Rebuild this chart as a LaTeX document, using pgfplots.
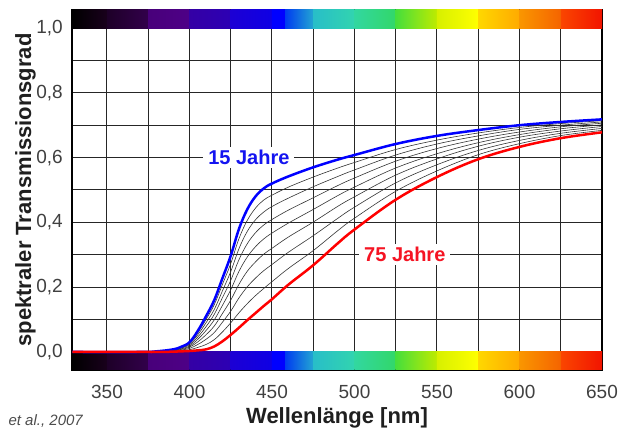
\documentclass[border=0pt]{standalone}
\usepackage{fontspec}
\setmainfont{Liberation Sans}
\usepackage{pgfplots}
\pgfplotsset{compat=1.18}
\usepackage{pgfplotstable}

\definecolor{jblue}{RGB}{0,0,255}
\definecolor{jred}{RGB}{255,0,0}
\definecolor{tblue}{RGB}{20,20,240}
\definecolor{tred}{RGB}{245,20,35}
% spectrum colours
\definecolor{s00}{RGB}{0,0,0}
\definecolor{s01}{RGB}{25,0,28}
\definecolor{s02}{RGB}{30,0,40}
\definecolor{s03}{RGB}{50,0,75}
\definecolor{s04}{RGB}{72,0,122}
\definecolor{s05}{RGB}{78,0,135}
\definecolor{s06}{RGB}{52,0,165}
\definecolor{s07}{RGB}{45,0,180}
\definecolor{s08}{RGB}{28,0,212}
\definecolor{s09}{RGB}{15,0,228}
\definecolor{s10}{RGB}{0,0,255}
\definecolor{s11}{RGB}{0,60,240}
\definecolor{s12}{RGB}{35,165,210}
\definecolor{s13}{RGB}{40,190,200}
\definecolor{s14}{RGB}{50,212,175}
\definecolor{s15}{RGB}{50,215,160}
\definecolor{s16}{RGB}{50,215,105}
\definecolor{s17}{RGB}{70,222,60}
\definecolor{s18}{RGB}{190,235,0}
\definecolor{s19}{RGB}{215,240,0}
\definecolor{s20}{RGB}{255,255,0}
\definecolor{s21}{RGB}{255,215,0}
\definecolor{s22}{RGB}{255,170,0}
\definecolor{s23}{RGB}{250,150,0}
\definecolor{s24}{RGB}{245,100,0}
\definecolor{s25}{RGB}{250,70,0}
\definecolor{s26}{RGB}{242,20,0}

\newcommand{\specseg}[4]{%
  \shade[left color=#3,right color=#4] (axis cs:#1,1) rectangle (axis cs:#2,1.0556);
  \shade[left color=#3,right color=#4] (axis cs:#1,-0.0556) rectangle (axis cs:#2,0);
}

\pgfplotstableread{
x   b     c1    c2    c3    c4    c5    c6    c7    r
329 0     0     0     0     0     0     0     0     0
370 0     0     0     0     0     0     0     0     0
380 0.002 0.002 0.002 0.001 0.001 0.001 0.001 0.000 0
390 0.008 0.007 0.007 0.006 0.005 0.004 0.003 0.002 0.001
395 0.016 0.015 0.013 0.012 0.010 0.008 0.006 0.004 0.002
400 0.030 0.027 0.025 0.022 0.018 0.015 0.011 0.007 0.003
405 0.065 0.059 0.053 0.046 0.039 0.031 0.023 0.014 0.005
410 0.110 0.100 0.090 0.078 0.066 0.053 0.039 0.023 0.008
415 0.160 0.146 0.131 0.116 0.099 0.080 0.060 0.038 0.017
420 0.228 0.209 0.189 0.168 0.144 0.119 0.092 0.062 0.033
425 0.297 0.273 0.248 0.221 0.192 0.160 0.126 0.090 0.053
430 0.380 0.350 0.319 0.285 0.249 0.209 0.167 0.121 0.075
435 0.440 0.406 0.372 0.334 0.293 0.249 0.201 0.149 0.098
440 0.480 0.444 0.408 0.368 0.325 0.278 0.228 0.174 0.120
445 0.505 0.469 0.432 0.392 0.349 0.302 0.251 0.196 0.142
450 0.520 0.484 0.449 0.409 0.367 0.320 0.270 0.217 0.163
460 0.542 0.509 0.475 0.438 0.398 0.355 0.308 0.258 0.208
475 0.570 0.540 0.510 0.476 0.440 0.401 0.359 0.313 0.268
490 0.594 0.568 0.542 0.514 0.483 0.450 0.413 0.375 0.336
500 0.608 0.585 0.562 0.537 0.509 0.479 0.447 0.413 0.378
525 0.642 0.625 0.608 0.589 0.568 0.546 0.522 0.496 0.470
550 0.667 0.654 0.642 0.628 0.612 0.596 0.578 0.559 0.540
575 0.685 0.676 0.667 0.657 0.646 0.635 0.622 0.609 0.595
600 0.700 0.693 0.687 0.679 0.671 0.663 0.653 0.643 0.633
625 0.710 0.705 0.700 0.695 0.689 0.682 0.675 0.668 0.660
650 0.718 0.714 0.710 0.706 0.701 0.696 0.690 0.684 0.678
}\lenstab

\begin{document}
\begin{tikzpicture}[x=1pt,y=1pt]
\path[use as bounding box] (0,0) rectangle (619,430);
\begin{axis}[
  at={(72pt,60pt)}, anchor=south west,
  scale only axis, width=530pt, height=360pt,
  xmin=328.8, xmax=650, ymin=-0.0556, ymax=1.0556,
  xtick={350,400,450,500,550,600,650},
  minor xtick={375,425,475,525,575,625},
  ytick={0,0.2,0.4,0.6,0.8,1},
  minor ytick={0.1,0.3,0.5,0.7,0.9},
  grid=both,
  major grid style={black!85, line width=1pt},
  minor grid style={black!85, line width=1pt},
  major tick length=0pt, minor tick length=0pt,
  axis line style={black, line width=2pt},
  /pgf/number format/assume math mode=true,
  tick label style={font=\fontsize{19}{19}\selectfont, text=black!75, inner sep=0pt},
  xticklabel style={anchor=north, yshift=-15pt},
  yticklabel style={anchor=east, xshift=-9pt, /pgf/number format/.cd, fixed, fixed zerofill, precision=1, use comma},
  xlabel={Wellenlänge [nm]},
  ylabel={spektraler Transmissionsgrad},
  label style={font=\bfseries\fontsize{22}{22}\selectfont, text=black!88, inner sep=0pt},
  xlabel style={at={([yshift=-37pt]axis description cs:0.5,0)}, anchor=north},
  ylabel style={at={([xshift=-36pt]axis description cs:0,0.5)}, anchor=south},
]
\specseg{328.8}{350}{s00}{s01}
\specseg{350}{375}{s02}{s03}
\specseg{375}{400}{s04}{s05}
\specseg{400}{425}{s06}{s07}
\specseg{425}{450}{s08}{s09}
\specseg{450}{458}{s10}{s10}
\specseg{458}{475}{s11}{s12}
\specseg{475}{500}{s13}{s14}
\specseg{500}{525}{s15}{s16}
\specseg{525}{550}{s17}{s18}
\specseg{550}{575}{s19}{s20}
\specseg{575}{600}{s21}{s22}
\specseg{600}{625}{s23}{s24}
\specseg{625}{650}{s25}{s26}

\pgfplotsinvokeforeach{c1,c2,c3,c4,c5,c6,c7}{
  \addplot[black!80, line width=0.6pt, smooth, tension=0.6] table[x=x, y=#1] {\lenstab};
}
\addplot[jblue, line width=2.5pt, smooth, tension=0.6] table[x=x, y=b] {\lenstab};
\addplot[jred, line width=2.5pt, smooth, tension=0.6] table[x=x, y=r] {\lenstab};

\node[fill=white, inner xsep=5pt, inner ysep=3pt, text=tblue, font=\bfseries\fontsize{20}{20}\selectfont] at (axis cs:436,0.6) {15 Jahre};
\node[fill=white, inner xsep=5pt, inner ysep=3pt, text=tred, font=\bfseries\fontsize{20}{20}\selectfont] at (axis cs:530.5,0.3) {75 Jahre};
\end{axis}
\node[anchor=base east, inner sep=0pt, font=\itshape\fontsize{15}{15}\selectfont, text=black!70] at (83,4) {et al., 2007};
\end{tikzpicture}
\end{document}
